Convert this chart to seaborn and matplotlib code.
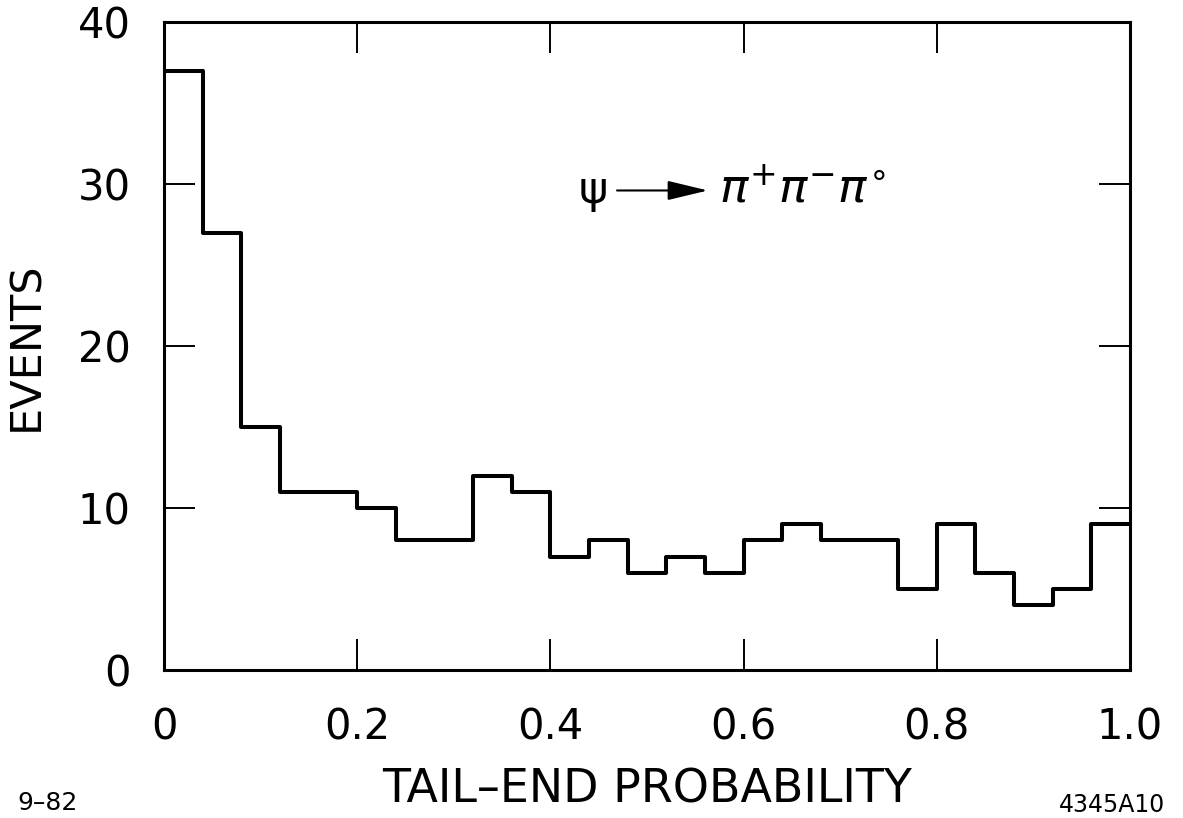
import numpy as np
import matplotlib
matplotlib.use("Agg")
import matplotlib.pyplot as plt
import seaborn as sns

# Data
bin_edges = [round(0.04 * i, 2) for i in range(26)]
events = [37, 27, 15, 11, 11, 10, 8, 8, 12, 11, 7, 8, 6, 7, 6, 8, 9, 8, 8, 5, 9, 6, 4, 5, 9]
x_ticks = [0, 0.2, 0.4, 0.6, 0.8, 1.0]
x_tick_labels = ["0", "0.2", "0.4", "0.6", "0.8", "1.0"]
y_ticks = [0, 10, 20, 30, 40]
y_tick_labels = ["0", "10", "20", "30", "40"]

sns.set_theme(style="ticks")
plt.rcParams['font.family'] = ['DejaVu Sans']
plt.rcParams['text.color'] = 'black'
plt.rcParams['axes.labelcolor'] = 'black'
plt.rcParams['xtick.color'] = 'black'
plt.rcParams['ytick.color'] = 'black'

fig = plt.figure(figsize=(11.83, 8.18), dpi=100)
ax = fig.add_axes([164 / 1183, 1 - 670 / 818, (1130 - 164) / 1183, (670 - 22) / 818])

centers = [(bin_edges[i] + bin_edges[i + 1]) / 2 for i in range(len(events))]
sns.histplot(x=centers, weights=events, bins=bin_edges, element="step", fill=False,
             color="black", linewidth=2.9, ax=ax)

ax.set_xlim(0, 1.0)
ax.set_ylim(0, 40)
ax.set_xticks(x_ticks)
ax.set_xticklabels(x_tick_labels)
ax.set_yticks(y_ticks)
ax.set_yticklabels(y_tick_labels)
ax.tick_params(axis="both", direction="in", length=22, width=1.4, color="black",
               top=True, right=True, labelsize=30, labelcolor="black")
ax.tick_params(axis="x", pad=26)
ax.tick_params(axis="y", pad=24)
for s in ax.spines.values():
    s.set_linewidth(2.2)
    s.set_color("black")
    s.set_visible(True)

ax.set_xlabel("TAIL–END PROBABILITY", fontsize=33, labelpad=14, color="black")
ax.set_ylabel("EVENTS", fontsize=31, labelpad=22, color="black")

# Reaction annotation
ax.text(0.444, 29.6, "ψ", fontsize=32, ha="center", va="center", color="black")
ax.annotate("", xy=(0.563, 29.6), xytext=(0.469, 29.6),
            arrowprops=dict(arrowstyle="-|>,head_length=1.25,head_width=0.3",
                            color="black", lw=1.5, mutation_scale=20,
                            shrinkA=0, shrinkB=0))
ax.text(0.575, 29.6, r"$\pi^{+}\pi^{-}\pi^{\circ}$", fontsize=34, ha="left", va="center",
        color="black")

fig.text(17 / 1183, 1 - 803 / 818, "9–82", fontsize=18, ha="left", va="center")
fig.text(1165 / 1183, 1 - 805 / 818, "4345A10", fontsize=17, ha="right", va="center")

fig.savefig("out.png", dpi=100, facecolor="white")
